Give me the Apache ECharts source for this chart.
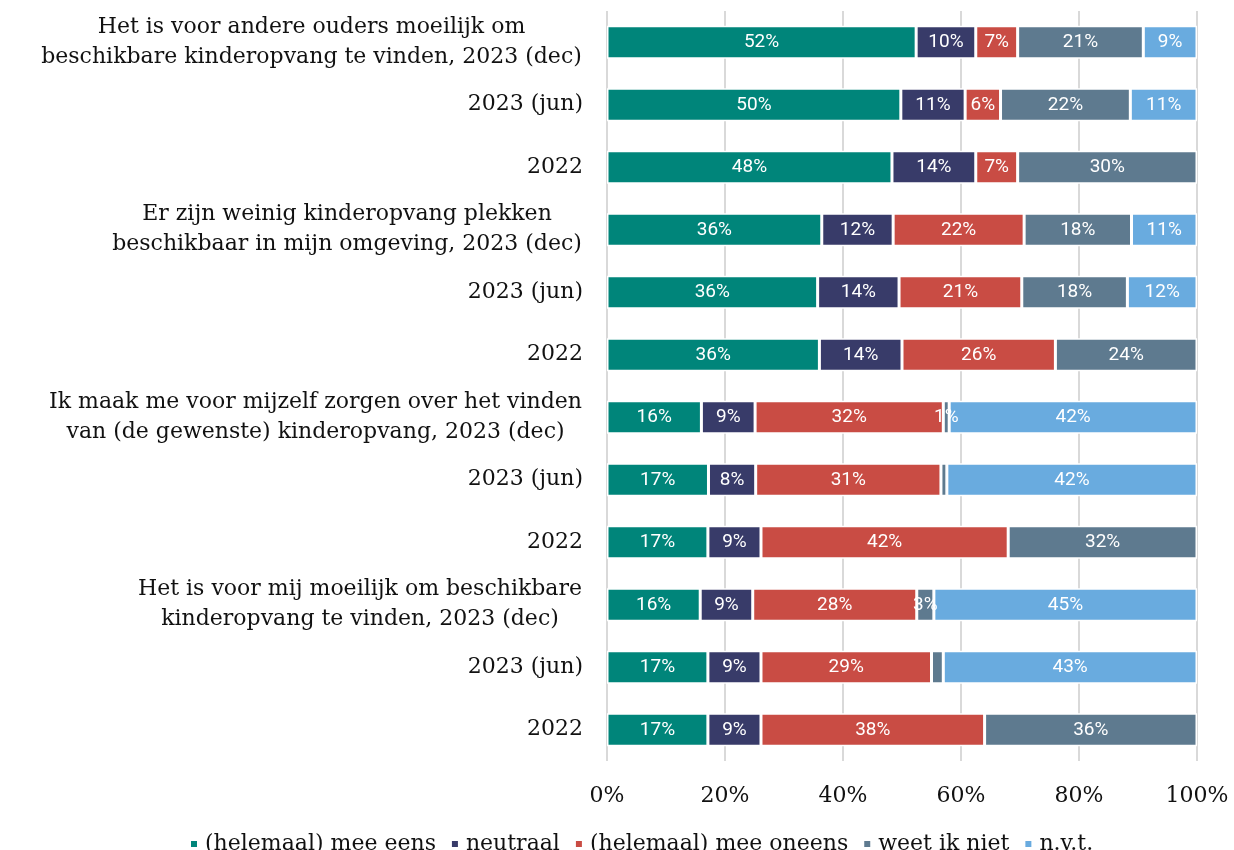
<!DOCTYPE html>
<html>
<head>
<meta charset="utf-8">
<script src="https://cdn.jsdelivr.net/npm/echarts@6/dist/echarts.min.js"></script>
<style>
  html, body { margin: 0; padding: 0; background: #fff; }
  #chart { width: 1234px; height: 850px; }
</style>
</head>
<body>
<div id="chart"></div>
<script>
// categorieën (van boven naar beneden)
const categories = [
  "Het is voor andere ouders moeilijk om\nbeschikbare kinderopvang te vinden, 2023 (dec)",
  "2023 (jun)",
  "2022",
  "Er zijn weinig kinderopvang plekken\nbeschikbaar in mijn omgeving, 2023 (dec)",
  "2023 (jun)",
  "2022",
  "Ik maak me voor mijzelf zorgen over het vinden\nvan (de gewenste) kinderopvang, 2023 (dec)",
  "2023 (jun)",
  "2022",
  "Het is voor mij moeilijk om beschikbare\nkinderopvang te vinden, 2023 (dec)",
  "2023 (jun)",
  "2022"
];

const seriesNames = ["(helemaal) mee eens", "neutraal", "(helemaal) mee oneens", "weet ik niet", "n.v.t."];

const meeEens   = [52.4, 49.8, 48.3, 36.4, 35.7, 36.0, 16.0, 17.2, 17.1, 15.8, 17.1, 17.1];
const neutraal  = [10.1, 10.9, 14.2, 12.1, 13.8, 14.0,  9.1,  8.0,  9.0,  8.9,  9.0,  9.0];
const meeOneens = [ 7.1,  6.0,  7.1, 22.2, 20.8, 26.0, 31.9, 31.4, 41.9, 27.8, 28.9, 37.9];
const weetNiet  = [21.3, 22.0, 30.4, 18.2, 17.9, 24.0,  1.0,  1.0, 32.0,  2.9,  2.0, 36.0];
const nvt       = [ 9.1, 11.3,  0.0, 11.1, 11.8,  0.0, 42.0, 42.4,  0.0, 44.6, 43.0,  0.0];

// segmenten waar het label in het origineel ontbreekt (rij-index)
const weetNietNoLabel = [7, 10];

const xTicks = [0, 20, 40, 60, 80, 100];

const COLORS = ["#00857a", "#383b69", "#c94c44", "#5e7a8f", "#69abdf"];
const SERIF = "DejaVu Serif";
const LABEL_SIZE = 22;

// breedte van meerregelige labels meten, zodat regels gecentreerd staan
const ctx = document.createElement("canvas").getContext("2d");
ctx.font = LABEL_SIZE + "px '" + SERIF + "'";
const rich = {};
categories.forEach((c, i) => {
  const lines = c.split("\n");
  if (lines.length > 1) {
    const w = Math.max(...lines.map((l) => ctx.measureText(l).width));
    rich["w" + i] = {
      width: Math.ceil(w) + 2,
      align: "center",
      fontFamily: SERIF,
      fontSize: LABEL_SIZE,
      lineHeight: 30,
      color: "#111"
    };
  }
});

const chart = echarts.init(document.getElementById("chart"));

const allData = [meeEens, neutraal, meeOneens, weetNiet, nvt];

const series = allData.map((values, s) => ({
  name: seriesNames[s],
  type: "bar",
  stack: "total",
  barWidth: 33,
  data: values.map((v, i) => {
    if (v === 0) return null;
    if (s === 3 && weetNietNoLabel.includes(i)) {
      return { value: v, label: { show: false } };
    }
    return v;
  }),
  itemStyle: {
    color: COLORS[s],
    borderColor: "#fff",
    borderWidth: 1.5
  },
  label: {
    show: true,
    position: "inside",
    fontFamily: "Roboto",
    fontSize: 19,
    color: "#fff",
    formatter: (p) => (p.value > 0 ? Math.round(p.value) + "%" : "")
  },
  emphasis: { disabled: true }
}));

const option = {
  animation: false,
  backgroundColor: "#fff",
  grid: {
    left: 607,
    right: 37,
    top: 11,
    bottom: 89,
    containLabel: false
  },
  xAxis: {
    type: "value",
    min: 0,
    max: 100,
    interval: 20,
    axisLine: { show: false },
    axisTick: { show: false },
    splitLine: { show: true, lineStyle: { color: "#d9d9d9", width: 2 } },
    axisLabel: {
      margin: 24,
      fontFamily: SERIF,
      fontSize: LABEL_SIZE,
      color: "#111",
      formatter: (v) => (xTicks.includes(v) ? v + "%" : "")
    }
  },
  yAxis: {
    type: "category",
    inverse: true,
    data: categories,
    axisLine: { show: false },
    axisTick: { show: false },
    axisLabel: {
      margin: 24,
      fontFamily: SERIF,
      fontSize: LABEL_SIZE,
      lineHeight: 30,
      color: "#111",
      rich: rich,
      formatter: (value, index) => {
        const lines = value.split("\n");
        if (lines.length === 1) return value;
        return lines.map((l) => "{w" + index + "|" + l + "}").join("\n");
      }
    }
  },
  legend: {
    data: seriesNames,
    left: 184,
    top: 828,
    icon: "rect",
    itemWidth: 8,
    itemHeight: 8,
    itemGap: 14,
    textStyle: {
      fontFamily: SERIF,
      fontSize: LABEL_SIZE,
      color: "#111",
      padding: [0, 0, 0, 2]
    }
  },
  series: series
};

chart.setOption(option);
</script>
</body>
</html>
